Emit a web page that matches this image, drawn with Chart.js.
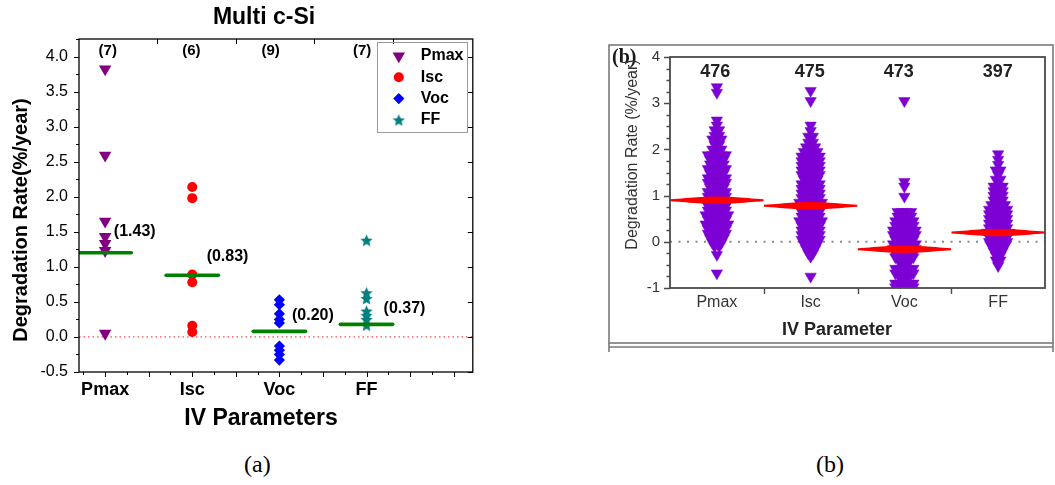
<!DOCTYPE html>
<html>
<head>
<meta charset="utf-8">
<script src="https://cdn.jsdelivr.net/npm/chart.js@4.4.0/dist/chart.umd.min.js"></script>
<style>
  html, body { margin: 0; padding: 0; background: #fff; }
  body { width: 1055px; height: 485px; position: relative; overflow: hidden; font-family: "Liberation Sans", Arial, sans-serif; }
  #wrapA { position: absolute; left: 0; top: 0; width: 480px; height: 440px; }
  #wrapB { position: absolute; left: 600px; top: 30px; width: 455px; height: 330px; }
  #wrapB canvas { filter: blur(0.35px); }
  .cap { position: absolute; top: 452px; font-family: "Liberation Serif", "Times New Roman", serif; font-size: 24px; line-height: 24px; color: #000; }
</style>
</head>
<body>
<div id="wrapA"><canvas id="chartA" width="480" height="440"></canvas></div>
<div id="wrapB"><canvas id="chartB" width="455" height="330"></canvas></div>
<div class="cap" style="left:244px">(a)</div>
<div class="cap" style="left:816px">(b)</div>

<script>
// ---------- panel (a) data ----------
const catNames = ['Pmax', 'Isc', 'Voc', 'FF'];
const pmaxRates = [3.82, 2.59, 1.65, 1.43, 1.33, 1.23, 0.05];
const iscRates = [2.14, 1.98, 0.89, 0.78, 0.16, 0.07];
const vocRates = [0.53, 0.46, 0.33, 0.25, 0.20, -0.13, -0.19, -0.25, -0.33];
const ffRates = [1.38, 0.63, 0.55, 0.37, 0.31, 0.25, 0.17];
const medianA = [1.20, 0.88, 0.08, 0.18];
const medianTextA = ['(1.43)', '(0.83)', '(0.20)', '(0.37)'];
const countTextA = ['(7)', '(6)', '(9)', '(7)'];
const yTicksA = [-0.5, 0, 0.5, 1, 1.5, 2, 2.5, 3, 3.5, 4];

// ---------- panel (b) data ----------
const countTextB = ['476', '475', '473', '397'];
const medianB = [0.90, 0.78, -0.16, 0.20];
const yTicksB = [-1, 0, 1, 2, 3, 4];
// swarm rows: rate level and how many modules sit side by side at that level
const pmaxLevels = [3.35, 3.23, 2.63, 2.52, 2.42, 2.3, 2.22, 2.1, 2.0, 1.88, 1.78, 1.68, 1.58, 1.48, 1.38, 1.28, 1.18, 1.08, 0.98, 0.88, 0.78, 0.68, 0.58, 0.48, 0.38, 0.28, 0.18, 0.08, -0.02, -0.1, -0.28, -0.68];
const pmaxPerLevel = [1, 1, 1, 1, 2, 2, 3, 2, 3, 5, 4, 4, 5, 4, 5, 5, 4, 5, 5, 6, 5, 5, 6, 5, 6, 5, 5, 4, 3, 2, 1, 1];
const iscLevels = [3.27, 3.05, 2.52, 2.4, 2.28, 2.15, 2.05, 1.95, 1.85, 1.75, 1.65, 1.55, 1.45, 1.35, 1.25, 1.15, 1.05, 0.95, 0.85, 0.75, 0.65, 0.55, 0.45, 0.35, 0.25, 0.15, 0.05, -0.05, -0.15, -0.25, -0.32, -0.75];
const iscPerLevel = [1, 1, 1, 1, 2, 2, 3, 4, 5, 5, 5, 5, 5, 4, 5, 5, 5, 5, 6, 5, 5, 5, 6, 5, 5, 5, 5, 4, 3, 2, 1, 1];
const vocLevels = [3.05, 1.3, 1.2, 0.98, 0.65, 0.55, 0.45, 0.35, 0.25, 0.15, 0.05, -0.05, -0.15, -0.25, -0.33, -0.45, -0.58, -0.68, -0.78, -0.9, -0.98];
const vocPerLevel = [1, 1, 1, 1, 4, 4, 5, 5, 6, 6, 5, 6, 6, 5, 5, 3, 5, 5, 3, 5, 5];
const ffLevels = [1.9, 1.78, 1.67, 1.55, 1.45, 1.35, 1.2, 1.1, 1.0, 0.9, 0.8, 0.7, 0.6, 0.5, 0.4, 0.3, 0.2, 0.1, 0.0, -0.1, -0.2, -0.3, -0.4, -0.52];
const ffPerLevel = [1, 1, 1, 2, 1, 2, 3, 3, 3, 3, 4, 5, 5, 5, 5, 5, 6, 5, 5, 4, 3, 2, 2, 1];

const FONT = '"Liberation Sans", Arial, sans-serif';

function starImage(color, size) {
  const c = document.createElement('canvas');
  c.width = size; c.height = size;
  const g = c.getContext('2d');
  const ro = size / 2, ri = ro * 0.45;
  g.beginPath();
  for (let i = 0; i < 10; i++) {
    const r = i % 2 ? ri : ro;
    const ang = -Math.PI / 2 + i * Math.PI / 5;
    g.lineTo(ro + r * Math.cos(ang), ro + 0.7 + r * Math.sin(ang));
  }
  g.closePath();
  g.fillStyle = color;
  g.fill();
  return c;
}

const star = starImage('#008080', 13);

const seriesA = [
  { label: 'Pmax', values: pmaxRates, color: '#800080', style: 'triangle', rotation: 180, radius: 7.2 },
  { label: 'Isc', values: iscRates, color: '#ff0000', style: 'circle', rotation: 0, radius: 5 },
  { label: 'Voc', values: vocRates, color: '#0000ff', style: 'rectRot', rotation: 0, radius: 5.6 },
  { label: 'FF', values: ffRates, color: '#008080', style: star, rotation: 0, radius: 6.5 }
];

function textAt(ctx, str, x, y, font, color, align) {
  ctx.font = font;
  ctx.fillStyle = color;
  ctx.textAlign = align || 'center';
  ctx.textBaseline = 'middle';
  ctx.fillText(str, x, y);
}

// ---------- panel (a) decorations ----------
const decorA = {
  id: 'decorA',
  afterDraw(chart) {
    const { ctx, chartArea: a, scales: { x, y } } = chart;
    ctx.save();
    ctx.strokeStyle = '#000';
    ctx.lineWidth = 1.3;
    ctx.strokeRect(a.left, a.top, a.right - a.left, a.bottom - a.top);

    ctx.lineWidth = 1;
    ctx.beginPath();
    for (let v = 0.75; v <= 5.001; v += 0.25) {
      const px = Math.round(x.getPixelForValue(v)) + 0.5;
      const len = Math.round(v * 4) % 2 === 0 ? 5 : 3;
      ctx.moveTo(px, a.bottom); ctx.lineTo(px, a.bottom + len);
    }
    for (let v = -0.5; v <= 4.251; v += 0.25) {
      const py = Math.round(y.getPixelForValue(v)) + 0.5;
      const major = Math.round(v * 4) % 2 === 0;
      ctx.moveTo(a.left, py); ctx.lineTo(a.left - (major ? 5 : 3), py);
      if (major) { ctx.moveTo(a.right, py); ctx.lineTo(a.right - 5, py); }
    }
    [1.6, 2.5, 3.4, 4.3].forEach(v => {
      const px = Math.round(x.getPixelForValue(v)) + 0.5;
      ctx.moveTo(px, a.top); ctx.lineTo(px, a.top + 5);
    });
    ctx.stroke();

    // titles
    textAt(ctx, 'Multi c-Si', 264, 18, 'bold 23px ' + FONT, '#000');
    textAt(ctx, 'IV Parameters', 261, 419, 'bold 23px ' + FONT, '#000');
    ctx.save();
    ctx.translate(21, 220);
    ctx.rotate(-Math.PI / 2);
    textAt(ctx, 'Degradation Rate(%/year)', 0, 0, 'bold 20px ' + FONT, '#000');
    ctx.restore();

    // sample counts above each column
    [1.03, 1.99, 2.9, 3.95].forEach((cx, i) => {
      textAt(ctx, countTextA[i], x.getPixelForValue(cx), 51, 'bold 15px ' + FONT, '#000');
    });
    // median value labels
    [[1.10, 1.50], [2.165, 1.143], [3.145, 0.31], [4.196, 0.406]].forEach((p, i) => {
      textAt(ctx, medianTextA[i], x.getPixelForValue(p[0]), y.getPixelForValue(p[1]), 'bold 16px ' + FONT, '#000', 'left');
    });

    // legend
    const lx = a.right - 96, ly = a.top + 3;
    ctx.strokeStyle = '#9a9a9a';
    ctx.lineWidth = 1;
    ctx.strokeRect(Math.round(lx) + 0.5, Math.round(ly) + 0.5, 90, 90);
    seriesA.forEach((s, i) => {
      const ry = ly + 14 + i * 21.3;
      ctx.fillStyle = s.color;
      ctx.strokeStyle = s.color;
      Chart.helpers.drawPoint(ctx, { pointStyle: s.style, rotation: s.rotation, radius: s.radius, borderWidth: 0 }, lx + 22, ry);
      textAt(ctx, s.label, lx + 44, ry, 'bold 16px ' + FONT, '#000', 'left');
    });
    ctx.restore();
  }
};

const datasetsA = [];
medianA.forEach((m, i) => {
  datasetsA.push({
    type: 'line', order: 0,
    data: [{ x: i + 0.7, y: m }, { x: i + 1.3, y: m }],
    borderColor: '#008000', borderWidth: 3.6, pointRadius: 0, borderCapStyle: 'round'
  });
});
seriesA.forEach((s, i) => {
  datasetsA.push({
    label: s.label, order: 1,
    data: s.values.map(v => ({ x: i + 1, y: v })),
    pointStyle: s.style, pointRotation: s.rotation, pointRadius: s.radius,
    pointBackgroundColor: s.color, pointBorderColor: s.color, pointBorderWidth: 0
  });
});
datasetsA.push({
  type: 'line', order: 2,
  data: [{ x: 0.7, y: 0 }, { x: 5.22, y: 0 }],
  borderColor: '#ff4a4a', borderWidth: 1.3, borderDash: [1.5, 3], pointRadius: 0
});

new Chart(document.getElementById('chartA'), {
  type: 'scatter',
  data: { datasets: datasetsA },
  options: {
    responsive: false,
    animation: false,
    layout: { padding: { top: 39, right: 7, left: 0, bottom: 0 } },
    plugins: { legend: { display: false }, tooltip: { enabled: false } },
    scales: {
      x: {
        type: 'linear', min: 0.7, max: 5.22,
        grid: { display: false, drawTicks: false },
        border: { display: false },
        afterFit: s => { s.height = 68; },
        afterBuildTicks: s => { s.ticks = catNames.map((n, i) => ({ value: i + 1 })); },
        ticks: {
          padding: 7, color: '#000', font: { family: FONT, size: 18, weight: 'bold' },
          callback: v => catNames[Math.round(v) - 1]
        }
      },
      y: {
        type: 'linear', min: -0.5, max: 4.25,
        grid: { display: false, drawTicks: false },
        border: { display: false },
        afterFit: s => { s.width = 79; },
        afterBuildTicks: s => { s.ticks = yTicksA.map(v => ({ value: v })); },
        ticks: {
          padding: 11, color: '#000', font: { family: FONT, size: 16 },
          callback: v => v.toFixed(1)
        }
      }
    }
  },
  plugins: [decorA]
});

// ---------- panel (b) ----------
const swarmLevels = [pmaxLevels, iscLevels, vocLevels, ffLevels];
const swarmCounts = [pmaxPerLevel, iscPerLevel, vocPerLevel, ffPerLevel];

function swarmPoints(levels, counts, cat) {
  const pts = [];
  levels.forEach((v, j) => {
    const n = counts[j];
    for (let k = 0; k < n; k++) pts.push({ x: cat + (k - (n - 1) / 2) * 0.048, y: v });
  });
  return pts;
}

function spindleEdge(m, cat, sign) {
  const pts = [];
  for (let s = 0; s <= 24; s++) {
    const t = s / 12 - 1;
    const h = 0.022 + 0.058 * Math.pow(1 - t * t, 1.5);
    pts.push({ x: cat + t * 0.5, y: m + sign * h });
  }
  return pts;
}

const datasetsB = [];
medianB.forEach((m, i) => {
  datasetsB.push({
    type: 'line', order: 0, data: spindleEdge(m, i + 1, -1),
    borderWidth: 0, pointRadius: 0, fill: false, borderColor: 'rgba(0,0,0,0)'
  });
  datasetsB.push({
    type: 'line', order: 0, data: spindleEdge(m, i + 1, 1),
    borderWidth: 0, pointRadius: 0, fill: '-1', backgroundColor: '#ff0000', borderColor: 'rgba(0,0,0,0)'
  });
});
swarmLevels.forEach((lv, i) => {
  datasetsB.push({
    label: catNames[i], order: 1,
    data: swarmPoints(lv, swarmCounts[i], i + 1),
    pointStyle: 'triangle', pointRotation: 180, pointRadius: 6.6,
    pointBackgroundColor: '#7d00d4', pointBorderColor: '#7d00d4', pointBorderWidth: 0.5
  });
});
datasetsB.push({
  type: 'line', order: 2,
  data: [{ x: 0.5, y: 0 }, { x: 4.5, y: 0 }],
  borderColor: '#8a8a8a', borderWidth: 2, borderDash: [2, 6.5], pointRadius: 0
});

const decorB = {
  id: 'decorB',
  afterDraw(chart) {
    const { ctx, chartArea: a, scales: { x, y } } = chart;
    ctx.save();
    // outer figure box
    ctx.strokeStyle = '#7a7a7a';
    ctx.lineWidth = 1.6;
    ctx.strokeRect(9, 15, 444, 298);
    ctx.beginPath();
    ctx.moveTo(9, 317); ctx.lineTo(453, 317);
    ctx.moveTo(9, 313); ctx.lineTo(9, 322);
    ctx.moveTo(453, 313); ctx.lineTo(453, 322);
    ctx.stroke();

    // plot frame
    ctx.strokeStyle = '#4a4a4a';
    ctx.lineWidth = 1.8;
    ctx.strokeRect(a.left, a.top, a.right - a.left, a.bottom - a.top);
    ctx.lineWidth = 1.4;
    ctx.beginPath();
    for (let v = -1; v <= 4.001; v += 0.25) {
      const py = Math.round(y.getPixelForValue(v)) + 0.5;
      const major = Math.abs(v - Math.round(v)) < 1e-6;
      ctx.moveTo(a.left, py); ctx.lineTo(a.left - (major ? 6 : 3.5), py);
    }
    [1.5, 2.5, 3.5].forEach(v => {
      const px = Math.round(x.getPixelForValue(v)) + 0.5;
      ctx.moveTo(px, a.bottom); ctx.lineTo(px, a.bottom + 6);
    });
    ctx.stroke();

    ctx.font = 'bold 20px "Liberation Serif", "Times New Roman", serif';
    ctx.fillStyle = '#1a1a1a';
    ctx.textAlign = 'left';
    ctx.textBaseline = 'middle';
    ctx.fillText('(b)', 12, 28);

    [0.983, 1.99, 2.94, 3.995].forEach((cx, i) => {
      textAt(ctx, countTextB[i], x.getPixelForValue(cx), 42, 'bold 18px ' + FONT, '#222');
    });
    textAt(ctx, 'IV Parameter', 237, 300, 'bold 18px ' + FONT, '#222');
    ctx.save();
    ctx.translate(33, 124.5);
    ctx.rotate(-Math.PI / 2);
    textAt(ctx, 'Degradation Rate (%/year)', 0, 0, '16px ' + FONT, '#333');
    ctx.restore();
    ctx.restore();
  }
};

new Chart(document.getElementById('chartB'), {
  type: 'scatter',
  data: { datasets: datasetsB },
  options: {
    responsive: false,
    animation: false,
    layout: { padding: { top: 27, right: 10, left: 0, bottom: 0 } },
    plugins: { legend: { display: false }, tooltip: { enabled: false } },
    scales: {
      x: {
        type: 'linear', min: 0.5, max: 4.5,
        grid: { display: false, drawTicks: false },
        border: { display: false },
        afterFit: s => { s.height = 72; },
        afterBuildTicks: s => { s.ticks = catNames.map((n, i) => ({ value: i + 1 })); },
        ticks: {
          padding: 4.5, color: '#333', font: { family: FONT, size: 16 },
          callback: v => catNames[Math.round(v) - 1]
        }
      },
      y: {
        type: 'linear', min: -1, max: 4,
        grid: { display: false, drawTicks: false },
        border: { display: false },
        afterFit: s => { s.width = 70; },
        afterBuildTicks: s => { s.ticks = yTicksB.map(v => ({ value: v })); },
        ticks: { padding: 10, color: '#333', font: { family: FONT, size: 15 } }
      }
    }
  },
  plugins: [decorB]
});
</script>
</body>
</html>
